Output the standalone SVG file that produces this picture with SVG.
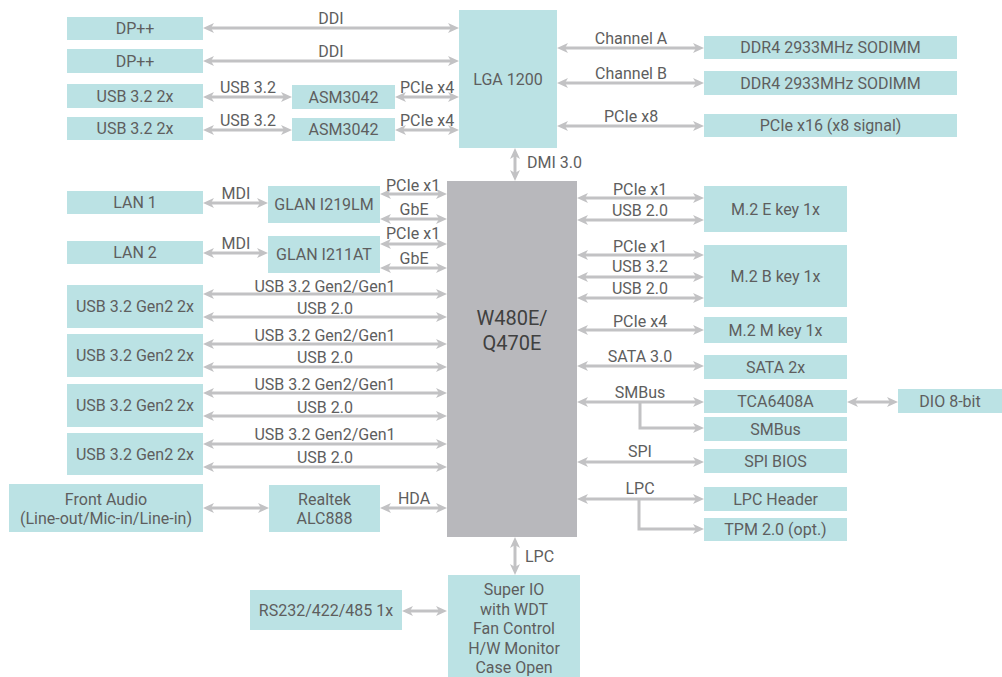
<svg xmlns="http://www.w3.org/2000/svg" width="1002" height="677" viewBox="0 0 1002 677">
<style>
.b{fill:#bbe2e4}
.c{fill:#b8b8bc}
text{font-family:Roboto,"Liberation Sans",sans-serif;font-size:16px;fill:#5e5e5e;text-anchor:middle}
.t{dominant-baseline:central}
.big{font-size:20px;fill:#404040}
.l{text-anchor:start}
.a{stroke:#c2c2c4;stroke-width:3;fill:none;marker-start:url(#m);marker-end:url(#m)}
.e{stroke:#c2c2c4;stroke-width:3;fill:none;marker-end:url(#m)}
</style>
<defs>
<marker id="m" markerUnits="userSpaceOnUse" markerWidth="12" markerHeight="10" refX="3" refY="5" orient="auto-start-reverse">
<path d="M0,0 L11,5 L0,10 L3,5 Z" fill="#c2c2c4"/>
</marker>
</defs>
<g id="connectors">
<line class="a" x1="211" y1="28" x2="451" y2="28"/>
<line class="a" x1="211" y1="61" x2="451" y2="61"/>
<line class="a" x1="211" y1="97" x2="284" y2="97"/>
<line class="a" x1="403" y1="97" x2="451" y2="97"/>
<line class="a" x1="211" y1="130" x2="284" y2="130"/>
<line class="a" x1="403" y1="130" x2="451" y2="130"/>
<line class="a" x1="565" y1="48" x2="696" y2="48"/>
<line class="a" x1="565" y1="83" x2="696" y2="83"/>
<line class="a" x1="565" y1="126" x2="696" y2="126"/>
<line class="a" x1="515" y1="156" x2="515" y2="173"/>
<line class="a" x1="211" y1="203" x2="260" y2="203"/>
<line class="a" x1="211" y1="253" x2="260" y2="253"/>
<line class="a" x1="388" y1="194" x2="439" y2="194"/>
<line class="a" x1="388" y1="219" x2="439" y2="219"/>
<line class="a" x1="388" y1="244" x2="439" y2="244"/>
<line class="a" x1="388" y1="268" x2="439" y2="268"/>
<line class="a" x1="211" y1="294" x2="439" y2="294"/>
<line class="a" x1="211" y1="317" x2="439" y2="317"/>
<line class="a" x1="211" y1="344" x2="439" y2="344"/>
<line class="a" x1="211" y1="367" x2="439" y2="367"/>
<line class="a" x1="211" y1="393" x2="439" y2="393"/>
<line class="a" x1="211" y1="416" x2="439" y2="416"/>
<line class="a" x1="211" y1="444" x2="439" y2="444"/>
<line class="a" x1="211" y1="467" x2="439" y2="467"/>
<line class="a" x1="211" y1="508" x2="261" y2="508"/>
<line class="a" x1="388" y1="508" x2="439" y2="508"/>
<line class="a" x1="515" y1="545" x2="515" y2="567"/>
<line class="a" x1="410" y1="611" x2="439" y2="611"/>
<line class="a" x1="585" y1="198" x2="696" y2="198"/>
<line class="a" x1="585" y1="220" x2="696" y2="220"/>
<line class="a" x1="585" y1="255" x2="696" y2="255"/>
<line class="a" x1="585" y1="277" x2="696" y2="277"/>
<line class="a" x1="585" y1="298" x2="696" y2="298"/>
<line class="a" x1="585" y1="330" x2="696" y2="330"/>
<line class="a" x1="585" y1="366" x2="696" y2="366"/>
<line class="a" x1="585" y1="402" x2="696" y2="402"/>
<polyline class="e" points="640,402 640,428 696,428"/>
<line class="a" x1="855" y1="402" x2="890" y2="402"/>
<line class="a" x1="585" y1="462" x2="696" y2="462"/>
<line class="a" x1="585" y1="499" x2="696" y2="499"/>
<polyline class="e" points="639,499 639,529 696,529"/>
<text x="331" y="24">DDI</text>
<text x="331" y="57">DDI</text>
<text x="248" y="93">USB 3.2</text>
<text x="427" y="93">PCIe x4</text>
<text x="248" y="126">USB 3.2</text>
<text x="427" y="126">PCIe x4</text>
<text x="631" y="44">Channel A</text>
<text x="631" y="79">Channel B</text>
<text x="631" y="122">PCIe x8</text>
<text class="l" x="527" y="168">DMI 3.0</text>
<text x="236" y="199">MDI</text>
<text x="236" y="249">MDI</text>
<text x="413" y="191">PCIe x1</text>
<text x="414" y="215">GbE</text>
<text x="413" y="239">PCIe x1</text>
<text x="414" y="264">GbE</text>
<text x="325" y="292">USB 3.2 Gen2/Gen1</text>
<text x="325" y="314">USB 2.0</text>
<text x="325" y="341">USB 3.2 Gen2/Gen1</text>
<text x="325" y="363">USB 2.0</text>
<text x="325" y="390">USB 3.2 Gen2/Gen1</text>
<text x="325" y="413">USB 2.0</text>
<text x="325" y="440">USB 3.2 Gen2/Gen1</text>
<text x="325" y="463">USB 2.0</text>
<text x="414" y="504">HDA</text>
<text class="l" x="525" y="562">LPC</text>
<text x="640" y="195">PCIe x1</text>
<text x="640" y="216">USB 2.0</text>
<text x="640" y="252">PCIe x1</text>
<text x="640" y="272">USB 3.2</text>
<text x="640" y="294">USB 2.0</text>
<text x="640" y="327">PCIe x4</text>
<text x="640" y="362">SATA 3.0</text>
<text x="640" y="398">SMBus</text>
<text x="640" y="457">SPI</text>
<text x="640" y="494">LPC</text>
</g>
<g id="dp1"><rect class="b" x="67" y="17" width="136" height="23"/><text class="t" x="135" y="28.5">DP++</text></g>
<g id="dp2"><rect class="b" x="67" y="49" width="136" height="24"/><text class="t" x="135" y="61">DP++</text></g>
<g id="usb1"><rect class="b" x="67" y="84" width="136" height="24"/><text class="t" x="135" y="96">USB 3.2 2x</text></g>
<g id="usb2"><rect class="b" x="67" y="117" width="136" height="23"/><text class="t" x="135" y="128.5">USB 3.2 2x</text></g>
<g id="asm1"><rect class="b" x="292" y="85" width="103" height="24"/><text class="t" x="343.5" y="97">ASM3042</text></g>
<g id="asm2"><rect class="b" x="292" y="118" width="103" height="23"/><text class="t" x="343.5" y="129.5">ASM3042</text></g>
<g id="lga"><rect class="b" x="459" y="10" width="98" height="138"/><text class="t" x="508" y="79">LGA 1200</text></g>
<g id="ddr1"><rect class="b" x="704" y="36" width="253" height="23"/><text class="t" x="830.5" y="47.5">DDR4 2933MHz SODIMM</text></g>
<g id="ddr2"><rect class="b" x="704" y="71" width="253" height="24"/><text class="t" x="830.5" y="83">DDR4 2933MHz SODIMM</text></g>
<g id="pcie16"><rect class="b" x="704" y="114" width="253" height="23"/><text class="t" x="830.5" y="125.5">PCIe x16 (x8 signal)</text></g>
<g id="lan1"><rect class="b" x="67" y="191" width="136" height="23"/><text class="t" x="135" y="202.5">LAN 1</text></g>
<g id="glan1"><rect class="b" x="268" y="186" width="112" height="37"/><text class="t" x="324" y="204.5">GLAN I219LM</text></g>
<g id="lan2"><rect class="b" x="67" y="241" width="136" height="23"/><text class="t" x="135" y="252.5">LAN 2</text></g>
<g id="glan2"><rect class="b" x="268" y="236" width="112" height="37"/><text class="t" x="324" y="254.5">GLAN I211AT</text></g>
<g id="usbg1"><rect class="b" x="67" y="285" width="136" height="43"/><text class="t" x="135" y="306.5">USB 3.2 Gen2 2x</text></g>
<g id="usbg2"><rect class="b" x="67" y="334" width="136" height="43"/><text class="t" x="135" y="355.5">USB 3.2 Gen2 2x</text></g>
<g id="usbg3"><rect class="b" x="67" y="384" width="136" height="43"/><text class="t" x="135" y="405.5">USB 3.2 Gen2 2x</text></g>
<g id="usbg4"><rect class="b" x="67" y="433" width="136" height="42"/><text class="t" x="135" y="454">USB 3.2 Gen2 2x</text></g>
<g id="audio"><rect class="b" x="9" y="484" width="194" height="48"/><text class="t" x="106" y="499">Front Audio</text><text class="t" x="106" y="518.5">(Line-out/Mic-in/Line-in)</text></g>
<g id="realtek"><rect class="b" x="269" y="485" width="111" height="47"/><text class="t" x="324.5" y="499">Realtek</text><text class="t" x="324.5" y="518.5">ALC888</text></g>
<g id="rs232"><rect class="b" x="250" y="590" width="152" height="40"/><text class="t" x="326" y="610">RS232/422/485 1x</text></g>
<g id="superio"><rect class="b" x="448" y="575" width="132" height="102"/><text class="t" x="514" y="589.5">Super IO</text><text class="t" x="514" y="609">with WDT</text><text class="t" x="514" y="628.5">Fan Control</text><text class="t" x="514" y="648">H/W Monitor</text><text class="t" x="514" y="667.5">Case Open</text></g>
<g id="chip"><rect class="c" x="447" y="181" width="130" height="356"/><text class="big t" x="512" y="318">W480E/</text><text class="big t" x="512" y="343">Q470E</text></g>
<g id="m2e"><rect class="b" x="704" y="186" width="143" height="46"/><text class="t" x="775.5" y="209">M.2 E key 1x</text></g>
<g id="m2b"><rect class="b" x="704" y="245" width="143" height="62"/><text class="t" x="775.5" y="276">M.2 B key 1x</text></g>
<g id="m2m"><rect class="b" x="704" y="317" width="143" height="26"/><text class="t" x="775.5" y="330">M.2 M key 1x</text></g>
<g id="sata"><rect class="b" x="704" y="355" width="143" height="24"/><text class="t" x="775.5" y="367">SATA 2x</text></g>
<g id="tca"><rect class="b" x="704" y="390" width="143" height="23"/><text class="t" x="775.5" y="401.5">TCA6408A</text></g>
<g id="smbus"><rect class="b" x="704" y="417" width="143" height="24"/><text class="t" x="775.5" y="429">SMBus</text></g>
<g id="dio"><rect class="b" x="898" y="389" width="104" height="24"/><text class="t" x="950" y="401">DIO 8-bit</text></g>
<g id="spi"><rect class="b" x="704" y="449" width="143" height="24"/><text class="t" x="775.5" y="461">SPI BIOS</text></g>
<g id="lpch"><rect class="b" x="704" y="487" width="143" height="24"/><text class="t" x="775.5" y="499">LPC Header</text></g>
<g id="tpm"><rect class="b" x="704" y="518" width="143" height="23"/><text class="t" x="775.5" y="529.5">TPM 2.0 (opt.)</text></g>
</svg>
